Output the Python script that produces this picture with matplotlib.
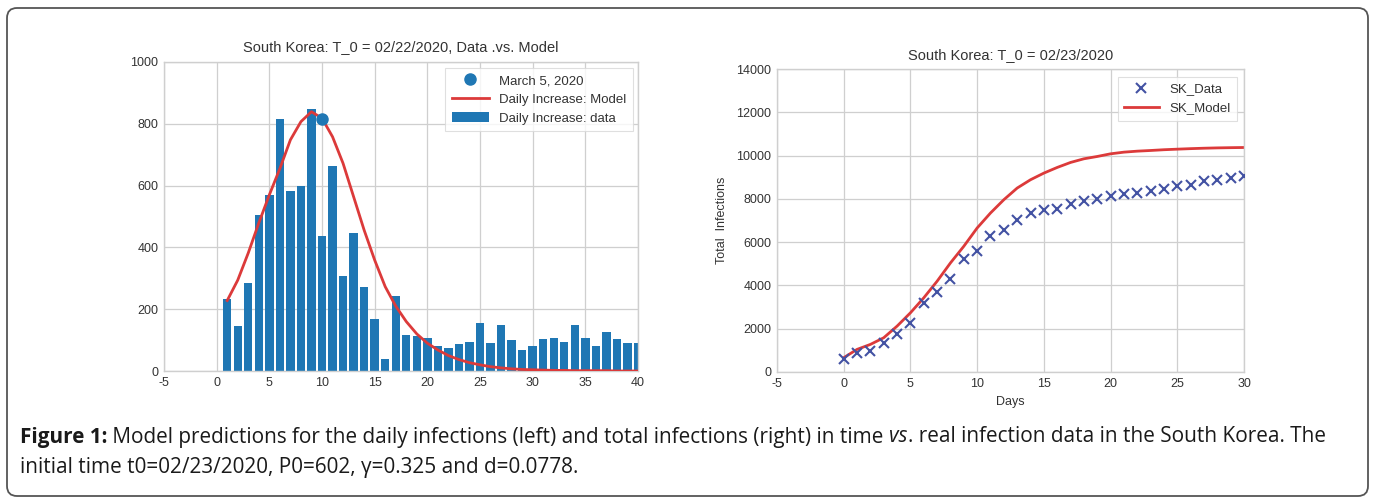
import matplotlib
matplotlib.use("Agg")
import matplotlib.pyplot as plt
from matplotlib import font_manager as fm
from matplotlib.patches import FancyBboxPatch
from matplotlib.transforms import IdentityTransform

# ---------------- data ----------------
left_days = list(range(1, 41))
left_daily = [232, 145, 286, 506, 570, 814, 584, 598, 849, 438,
              663, 309, 447, 273, 168, 40, 244, 118, 113, 107,
              80, 75, 86, 94, 154, 90, 150, 99, 68, 81,
              103, 108, 94, 149, 108, 81, 127, 103, 90, 90]
left_model = [228, 294, 382, 479, 570, 655, 748, 807, 839, 818,
              758, 672, 564, 456, 359, 273, 210, 160, 120, 90,
              68, 50, 37, 27, 20, 14, 10, 7, 5, 4,
              3, 2, 2, 1, 1, 1, 1, 0, 0, 0]
march5_day = [10]
march5_value = [817]

right_days = list(range(0, 31))
right_data = [602, 860, 968, 1322, 1737, 2274, 3166, 3704, 4318, 5240,
              5579, 6301, 6547, 7008, 7346, 7469, 7546, 7761, 7884, 8007,
              8145, 8222, 8268, 8345, 8468, 8606, 8652, 8806, 8883, 8960, 9036]
right_model = [660, 1045, 1275, 1583, 2120, 2735, 3427, 4195, 5040, 5809,
               6654, 7346, 7960, 8499, 8883, 9190, 9451, 9682, 9851, 9958,
               10081, 10158, 10204, 10235, 10270, 10296, 10320, 10340, 10355, 10365, 10373]

left_xticks = [-5, 0, 5, 10, 15, 20, 25, 30, 35, 40]
left_yticks = [0, 200, 400, 600, 800, 1000]
right_xticks = [-5, 0, 5, 10, 15, 20, 25, 30]
right_yticks = [0, 2000, 4000, 6000, 8000, 10000, 12000, 14000]

# ---------------- style ----------------
names = {f.name for f in fm.fontManager.ttflist}
chart_font = "Liberation Sans" if "Liberation Sans" in names else "DejaVu Sans"
cap_font = "Liberation Sans Narrow" if "Liberation Sans Narrow" in names else (
    "Open Sans" if "Open Sans" in names else "DejaVu Sans")

plt.rcParams["font.family"] = [chart_font, "DejaVu Sans"]
plt.rcParams["axes.unicode_minus"] = False
txt_col = "#333333"
grid_col = "#cfcfcf"
red = "#dc3a3a"
blue = "#1f77b4"
xblue = "#4352a3"

W, H = 1373, 500
fig = plt.figure(figsize=(W / 100, H / 100), dpi=100)
fig.patch.set_facecolor("white")


def style_ax(ax):
    ax.set_facecolor("white")
    ax.grid(True, color=grid_col, lw=0.9)
    ax.set_axisbelow(True)
    for s in ax.spines.values():
        s.set_color(grid_col)
        s.set_linewidth(1.0)
    ax.tick_params(length=0, labelsize=9, colors=txt_col, pad=4)


def ax_rect(x0, y0, x1, y1):
    return [x0 / W, 1 - y1 / H, (x1 - x0) / W, (y1 - y0) / H]


def style_leg(leg):
    leg.get_frame().set_edgecolor("#d8d8d8")
    leg.get_frame().set_linewidth(0.8)
    for t in leg.get_texts():
        t.set_color(txt_col)


# ---------------- left chart ----------------
ax1 = fig.add_axes(ax_rect(164, 62, 638, 371))
style_ax(ax1)
bars = ax1.bar(left_days, left_daily, width=0.8, color=blue, label="Daily Increase: data", zorder=2)
model_line, = ax1.plot(left_days, left_model, color=red, lw=2, label="Daily Increase: Model", zorder=3)
dot, = ax1.plot(march5_day, march5_value, "o", color=blue, ms=8, label="March 5, 2020", zorder=4)
ax1.set_xlim(-5, 40)
ax1.set_ylim(0, 1000)
ax1.set_xticks(left_xticks)
ax1.set_yticks(left_yticks)
ax1.set_title("South Korea: T_0 = 02/22/2020, Data .vs. Model", fontsize=10.5,
              color=txt_col, pad=8)
leg1 = ax1.legend([dot, model_line, bars],
                  ["March 5, 2020", "Daily Increase: Model", "Daily Increase: data"],
                  loc="upper right", fontsize=9.5, frameon=True, numpoints=1, borderpad=0.5,
                  handlelength=2.8, labelspacing=0.5, fancybox=False, borderaxespad=0,
                  bbox_to_anchor=(0.99, 0.98))
style_leg(leg1)

# ---------------- right chart ----------------
ax2 = fig.add_axes(ax_rect(777, 69, 1244, 372))
style_ax(ax2)
ax2.plot(right_days, right_data, "x", color=xblue, ms=6.5, mew=1.5, label="SK_Data", zorder=3)
ax2.plot(right_days, right_model, color=red, lw=2, label="SK_Model", zorder=2)
ax2.set_xlim(-5, 30)
ax2.set_ylim(0, 14000)
ax2.set_xticks(right_xticks)
ax2.set_yticks(right_yticks)
ax2.set_title("South Korea: T_0 = 02/23/2020", fontsize=10.5, color=txt_col, pad=7)
ax2.set_xlabel("Days", fontsize=9, color=txt_col, labelpad=5)
ax2.set_ylabel("Total  Infections", fontsize=9, color=txt_col, labelpad=6)
leg2 = ax2.legend(loc="upper right", fontsize=9.5, frameon=True, numpoints=1,
                  borderpad=0.5, handlelength=2.6, labelspacing=0.5, fancybox=False,
                  borderaxespad=0, bbox_to_anchor=(0.985, 0.975))
style_leg(leg2)

# ---------------- border box ----------------
box = FancyBboxPatch((7, H - 496), 1368 - 7, 496 - 8,
                     boxstyle="round,pad=0,rounding_size=10",
                     transform=IdentityTransform(), fill=False,
                     edgecolor="#555555", lw=1.3)
fig.patches.append(box)

# ---------------- caption ----------------
renderer = fig.canvas.get_renderer()
line1 = [("Figure 1:", "bold", "normal"),
         (" Model predictions for the daily infections (left) and total infections (right) in time ", "normal", "normal"),
         ("vs", "normal", "italic"),
         (". real infection data in the South Korea. The", "normal", "normal")]
line2 = [("initial time t0=02/23/2020, P0=602, \u03b3=0.325 and d=0.0778.", "normal", "normal")]


def seg_width(segs, size):
    total = 0
    for s, w, st in segs:
        t = fig.text(0, 0, s, fontsize=size, fontweight=w, fontstyle=st,
                     family=[cap_font, "DejaVu Sans"])
        total += t.get_window_extent(renderer).width
        t.remove()
    return total


base = 12
w0 = seg_width(line1, base)
cap_size = base * (1318 - 20) / w0


def draw_line(segs, x_px, y_px, size):
    x = x_px
    for s, w, st in segs:
        t = fig.text(x / W, 1 - y_px / H, s, fontsize=size, fontweight=w, fontstyle=st,
                     family=[cap_font, "DejaVu Sans"], color="#1a1a1a",
                     va="center", ha="left")
        x += t.get_window_extent(renderer).width


draw_line(line1, 20, 437, cap_size)
draw_line(line2, 20, 467, cap_size)

fig.savefig("out.png", dpi=100, facecolor="white")
